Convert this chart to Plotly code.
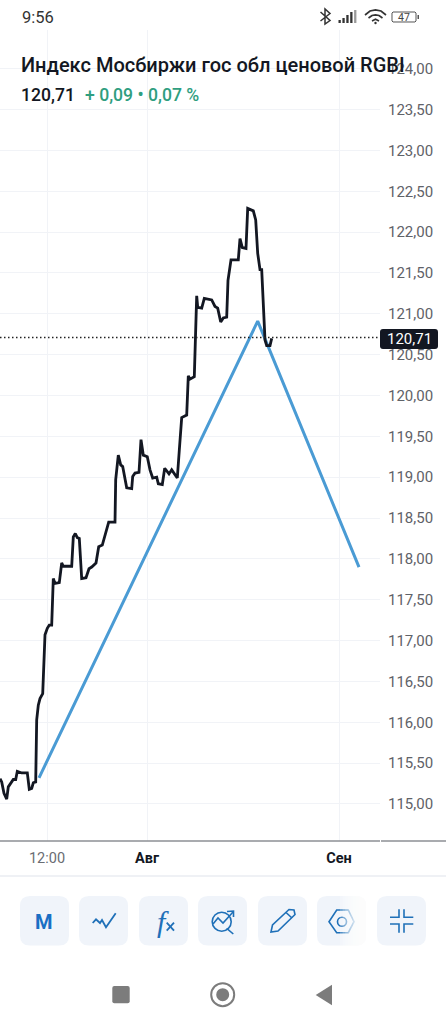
import plotly.graph_objects as go

# Chart data
bar_pos = [0, 1.7, 4, 6.7, 8.3, 10.7, 13.3, 15.7, 17.3, 21.7, 27.3, 29.3, 31.7, 33.3, 35.7, 36.7, 38.3, 40, 42.7, 45,
           47.3, 49.3, 51.7, 53.3, 55, 59.3, 61.7, 63.3, 71.7, 73.3, 75.3, 77.3, 79.3, 81.7, 86, 89, 91.7, 96, 98.7,
           102.3, 106, 108.7, 115, 115.7, 118.3, 120.7, 122.7, 126.7, 131.7, 132.7, 135, 139, 141, 143.3, 147.3, 150,
           152.7, 156.7, 158.3, 162.3, 164.7, 169, 171.7, 177.3, 179.3, 181.7, 186.7, 188.3, 190, 194.3, 196.7, 197.7,
           201.7, 204.3, 211.7, 215, 217.7, 220.7, 223.3, 226.7, 228, 231, 238.3, 240, 242.3, 246, 247.7, 253.3, 255.7,
           257.7, 260, 261.7, 265, 266.7, 270, 271.7]
close_vals = [115.31, 115.27, 115.13, 115.06, 115.21, 115.25, 115.30, 115.30, 115.40, 115.38, 115.38, 115.18, 115.19,
              115.26, 115.27, 116.03, 116.21, 116.29, 116.35, 117.07, 117.15, 117.19, 117.19, 117.76, 117.70, 117.71,
              117.95, 117.91, 117.91, 118.27, 118.31, 118.26, 118.25, 117.76, 117.77, 117.88, 117.90, 117.95, 118.15,
              118.17, 118.35, 118.45, 118.45, 118.97, 119.27, 119.15, 119.13, 118.87, 118.86, 119.01, 119.05, 119.06,
              119.46, 119.27, 119.25, 119.09, 118.99, 119.00, 118.92, 118.91, 119.11, 119.04, 119.09, 118.99, 119.33,
              119.73, 119.76, 120.24, 120.20, 120.23, 121.22, 121.08, 121.07, 121.19, 121.17, 121.09, 121.07, 120.90,
              120.95, 120.96, 121.41, 121.66, 121.66, 121.92, 121.81, 121.80, 122.29, 122.26, 122.15, 121.74, 121.54,
              121.54, 120.68, 120.61, 120.61, 120.70]
drawing_pos = [39, 257.7, 359]
drawing_vals = [115.32, 120.91, 117.90]
last_price = 120.71
x_ticks = [47, 147, 339]
x_labels = ['<span style="color:#6a6d73">12:00</span>', '<b>Авг</b>', '<b>Сен</b>']

W, H = 446, 1024
INK = '#131722'
BLUE = '#4a9bd4'
ICON = '#1f70b8'
GREY = '#7c7c7c'
GRID = '#f1f3f7'
FONT = 'Roboto'


def px(x):
    return x / W


def py(y):
    return 1 - y / H


def poly(pts, color, width=1.6, fill=None, close=False):
    d = 'M' + ' L'.join(f'{px(x):.5f},{py(y):.5f}' for x, y in pts) + (' Z' if close else '')
    return dict(type='path', xref='paper', yref='paper', path=d,
                line=dict(color=color, width=width), fillcolor=fill)


def rect(x0, y0, x1, y1, fill, r=0):
    # rounded rectangle in screen pixels
    rx, ry = px(r) if r else 0, r / H
    a, b, c, d = px(x0), py(y0), px(x1), py(y1)
    path = (f'M{a + rx:.5f},{b:.5f} L{c - rx:.5f},{b:.5f} Q{c:.5f},{b:.5f} {c:.5f},{b - ry:.5f} '
            f'L{c:.5f},{d + ry:.5f} Q{c:.5f},{d:.5f} {c - rx:.5f},{d:.5f} L{a + rx:.5f},{d:.5f} '
            f'Q{a:.5f},{d:.5f} {a:.5f},{d + ry:.5f} L{a:.5f},{b - ry:.5f} Q{a:.5f},{b:.5f} {a + rx:.5f},{b:.5f} Z')
    return dict(type='path', xref='paper', yref='paper', path=path, line=dict(width=0), fillcolor=fill)


def circle(cx, cy, r, color, width=1.6, fill=None):
    return dict(type='circle', xref='paper', yref='paper', x0=px(cx - r), x1=px(cx + r), y0=py(cy + r), y1=py(cy - r),
                line=dict(color=color, width=width), fillcolor=fill)


def label(x, y, text, size, color=INK, anchor='left', family=FONT, weight=None):
    return dict(xref='paper', yref='paper', x=px(x), y=py(y), text=text, showarrow=False, xanchor=anchor,
                yanchor='middle', font=dict(family=family, size=size, color=color, weight=weight))


fig = go.Figure()
fig.add_trace(go.Scatter(x=drawing_pos, y=drawing_vals, mode='lines', line=dict(color=BLUE, width=3),
                         hoverinfo='skip', showlegend=False))
fig.add_trace(go.Scatter(x=bar_pos, y=close_vals, mode='lines', line=dict(color=INK, width=2.8),
                         hoverinfo='skip', showlegend=False))

shapes = [
    dict(type='line', xref='paper', yref='y', x0=0, x1=px(380), y0=last_price, y1=last_price,
         line=dict(color='#222222', width=1.5, dash='1.5px,2.5px')),
    rect(0, 840.3, 380, 841.8, '#8c8f95'),
    rect(381, 840.3, W, 841.8, '#8c8f95'),
    rect(0, 875, W, 877, '#eff1f5'),
    rect(380, 329, 438, 349, INK, 3),
]

# toolbar buttons
for x0 in [20, 79, 139, 198, 258, 317, 377]:
    shapes.append(rect(x0, 896, x0 + 49, 945.5, '#f0f4fa', 10))

shapes.append(poly([(92.7, 923), (96, 919.3), (100, 923), (102, 920), (106, 927.3), (115.7, 913.3)], ICON, 1.8))
# fx
shapes.append(poly([(166.7, 922.7), (174, 930.7)], ICON, 1.8))
shapes.append(poly([(174, 922.7), (166.7, 930.7)], ICON, 1.8))
# chart search
shapes.append(circle(221.7, 921.7, 9.5, ICON))
shapes.append(poly([(226.7, 928.3), (233.3, 934)], ICON))
shapes.append(poly([(213, 924), (218, 918), (223, 923), (233, 912)], ICON))
shapes.append(poly([(227, 911.5), (233.5, 911), (233.5, 917)], ICON))
# pencil
shapes.append(poly([(271, 932), (272.5, 925), (289, 909.5), (294, 910), (295, 914.5), (278, 931)], ICON, close=True))
shapes.append(poly([(286, 912.5), (292, 918)], ICON))
# hexagon
shapes.append(poly([(329, 921.7), (336.7, 910), (348.3, 910), (354, 921.7), (348.3, 932.7), (336.7, 932.7)], ICON, close=True))
shapes.append(circle(342, 921.7, 4.5, ICON))
# fade on the sixth button
for i in range(10):
    shapes.append(rect(340 + i * 2.6, 896, 367, 946, 'rgba(255,255,255,0.22)'))
# collapse icon
shapes.append(poly([(390, 917.3), (399, 917.3), (399, 909.3)], ICON))
shapes.append(poly([(404, 909.3), (404, 917.3), (413.3, 917.3)], ICON))
shapes.append(poly([(390, 924), (399, 924), (399, 932.7)], ICON))
shapes.append(poly([(413.3, 924), (404, 924), (404, 932.7)], ICON))
# navigation bar
shapes.append(rect(112.3, 986, 129.7, 1003.3, GREY, 2))
shapes.append(circle(222.7, 994.7, 11.5, GREY, 2))
shapes.append(circle(222.7, 994.7, 6.5, GREY, 0, GREY))
shapes.append(poly([(315.7, 995), (332, 984.7), (332, 1005.3)], GREY, 0, GREY, True))
# status bar
shapes.append(poly([(320.5, 12), (330, 20.5), (325, 24), (325, 9), (330, 13.5), (320.5, 21)], '#333333', 1.5))
for i, top in enumerate([20, 18, 15, 12, 10]):
    shapes.append(rect(338.5 + i * 3.9, top, 340.8 + i * 3.9, 23, '#333333' if i < 4 else '#9a9a9a'))
shapes.append(poly([(365, 15), (370, 11), (375.5, 9.8), (381, 11), (386, 15)], '#333333', 1.7))
shapes.append(poly([(368.5, 18), (372, 15.5), (375.5, 14.8), (379, 15.5), (382.5, 18)], '#333333', 1.7))
shapes.append(poly([(372, 21), (375.5, 19.2), (379, 21)], '#333333', 1.7))
shapes.append(circle(375.5, 23, 1.2, '#333333', 0, '#333333'))
shapes.append(poly([(393, 12), (415, 12), (416, 13), (416, 21), (415, 22), (393, 22), (392, 21), (392, 13)], '#555555', 1, close=True))
shapes.append(rect(417.5, 15, 419, 19, '#555555'))

annotations = [
    label(19.5, 17.5, '9:56', 16.5, '#333333'),
    label(403.5, 17.3, '47', 10.5, '#444444', 'center'),
    label(18.5, 64.5, 'Индекс Мосбиржи гос обл ценовой RGBI', 20, INK, weight=500),
    label(18.5, 94.5, '120,71', 17.6, INK, weight=500),
    label(83, 94.5, '+ 0,09 • 0,07 %', 17.6, '#2f9e80', weight=500),
    label(409, 339, '120,71', 15, '#ffffff', 'center'),
    label(44.3, 921.5, 'M', 20, '#1a6fc4', 'center', weight=700),
    label(163, 921, '<i>f</i>', 30, ICON, 'center', 'Liberation Serif'),
]

fig.update_layout(
    width=W, height=H,
    margin=dict(l=0, r=0, t=0, b=0, autoexpand=False),
    paper_bgcolor='#ffffff', plot_bgcolor='#ffffff',
    separators=', ',
    font=dict(family=FONT),
    shapes=shapes,
    annotations=annotations,
    xaxis=dict(domain=[0, 380 / W], range=[0, 380], tickmode='array', tickvals=x_ticks, ticktext=x_labels,
               showgrid=True, gridcolor=GRID, gridwidth=1, zeroline=False, showline=False,
               ticks='outside', ticklen=4, tickcolor='rgba(0,0,0,0)',
               tickfont=dict(family=FONT, size=14.5, color=INK)),
    yaxis=dict(domain=[1 - 841 / H, 1 - 30 / H], range=[114.547, 124.474], side='right', dtick=0.5, tick0=115,
               tickformat='.2f', showgrid=True, gridcolor=GRID, gridwidth=1, zeroline=False, showline=False,
               ticks='outside', ticklen=4, tickcolor='rgba(0,0,0,0)',
               tickfont=dict(family=FONT, size=15, color='#5f6268')),
)

fig.write_html("out.html", config=dict(displayModeBar=False),
               post_script="document.body.style.margin='0';document.body.style.overflow='hidden';")
